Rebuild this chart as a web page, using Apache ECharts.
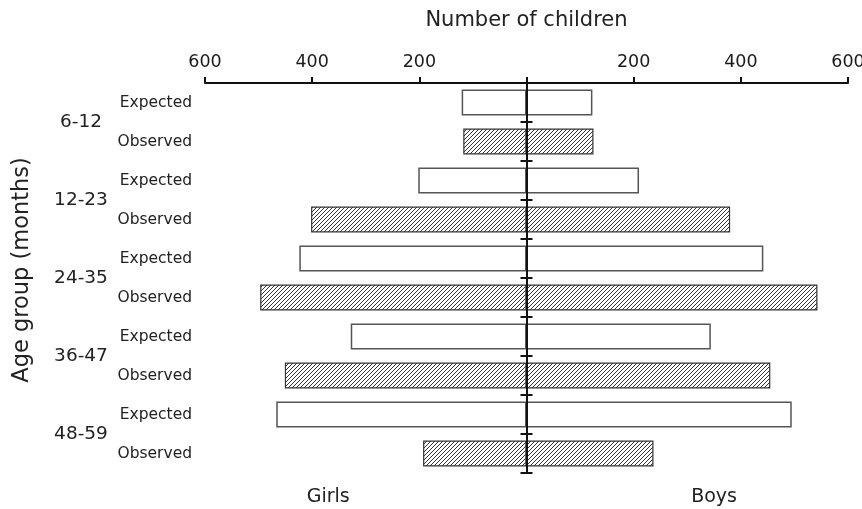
<!DOCTYPE html>
<html>
<head>
<meta charset="utf-8">
<script src="https://cdn.jsdelivr.net/npm/echarts@6/dist/echarts.min.js"></script>
<style>
html,body{margin:0;padding:0;background:#fff;}
#chart{width:862px;height:509px;}
</style>
</head>
<body>
<div id="chart"></div>
<script>
// ---- data ----
const groups = ['6-12', '12-23', '24-35', '36-47', '48-59'];
const rowTypes = ['Expected', 'Observed'];
const girlsExpected = [121, 202, 424, 328, 467];
const girlsObserved = [118, 402, 497, 451, 193];
const boysExpected  = [123, 210, 442, 344, 495];
const boysObserved  = [125, 380, 543, 455, 237];
const xTicks = [-600, -400, -200, 0, 200, 400, 600];
const sideLabels = ['Girls', 'Boys'];
const sideLabelValues = [-370, 350];

// ---- hatch pattern ----
function makeHatch() {
  const p = 4;
  const c = document.createElement('canvas');
  c.width = p; c.height = p;
  const ctx = c.getContext('2d');
  ctx.fillStyle = '#fff';
  ctx.fillRect(0, 0, p, p);
  ctx.strokeStyle = '#333';
  ctx.lineWidth = 1;
  ctx.beginPath();
  ctx.moveTo(-1, p + 1); ctx.lineTo(p + 1, -1);
  ctx.moveTo(-1, 1); ctx.lineTo(1, -1);
  ctx.moveTo(p - 1, p + 1); ctx.lineTo(p + 1, p - 1);
  ctx.stroke();
  return c;
}
const hatch = { image: makeHatch(), repeat: 'repeat' };

const styleExpected = { color: '#fff', borderColor: '#555', borderWidth: 1.5 };
const styleObserved = { color: hatch, borderColor: '#333', borderWidth: 1.2 };

const cats = [];
const girlsData = [];
const boysData = [];
groups.forEach((g, i) => {
  cats.push(g + '|' + rowTypes[0]);
  girlsData.push({ value: -girlsExpected[i], itemStyle: styleExpected });
  boysData.push({ value: boysExpected[i], itemStyle: styleExpected });
  cats.push(g + '|' + rowTypes[1]);
  girlsData.push({ value: -girlsObserved[i], itemStyle: styleObserved });
  boysData.push({ value: boysObserved[i], itemStyle: styleObserved });
});

const FONT = 'DejaVu Sans';
const chart = echarts.init(document.getElementById('chart'), null, { renderer: 'canvas' });

const centerAxis = (pos) => ({
  type: 'category', data: cats, inverse: true, position: pos, z: 10,
  axisLine: { show: true, onZero: true, onZeroAxisIndex: 0, lineStyle: { color: '#111', width: 2 } },
  axisTick: { show: true, length: 6, lineStyle: { color: '#111', width: 2 } },
  axisLabel: { show: false }, splitLine: { show: false }
});

chart.setOption({
  animation: false,
  textStyle: { fontFamily: FONT },
  grid: { left: 205, right: 14, top: 83, bottom: 36, containLabel: false, outerBoundsMode: 'none' },
  xAxis: {
    type: 'value', position: 'top', min: xTicks[0], max: xTicks[xTicks.length - 1], interval: 200,
    name: 'Number of children', nameLocation: 'middle', nameGap: 52,
    nameTextStyle: { fontFamily: FONT, fontSize: 21, color: '#222' },
    axisLine: { show: true, onZero: false, lineStyle: { color: '#111', width: 2 } },
    axisTick: { show: true, length: 6, lineStyle: { color: '#111', width: 2 } },
    axisLabel: { fontFamily: FONT, fontSize: 17.5, color: '#1a1a1a', margin: 12, hideOverlap: false,
      formatter: v => v === 0 ? '' : String(Math.abs(v)) },
    splitLine: { show: false }
  },
  yAxis: [
    centerAxis('left'),
    centerAxis('right'),
    {
      type: 'category', data: cats, inverse: true, position: 'left',
      axisLine: { show: false, onZero: false }, axisTick: { show: false },
      axisLabel: { fontFamily: FONT, fontSize: 15.5, color: '#222', margin: 13,
        formatter: v => v.split('|')[1] },
      splitLine: { show: false }
    },
    {
      type: 'category', data: groups, inverse: true, position: 'left',
      axisLine: { show: false, onZero: false }, axisTick: { show: false },
      axisLabel: { fontFamily: FONT, fontSize: 18.5, color: '#222', margin: 124, align: 'center' },
      splitLine: { show: false }
    }
  ],
  series: [
    { name: 'Girls', type: 'bar', yAxisIndex: 0, data: girlsData, barWidth: 26, barGap: '-100%', z: 2 },
    { name: 'Boys', type: 'bar', yAxisIndex: 0, data: boysData, barWidth: 26, barGap: '-100%', z: 2 }
  ]
});

// side labels positioned through the value axis scale
const gSide = sideLabels.map((t, i) => {
  const px = chart.convertToPixel({ xAxisIndex: 0 }, sideLabelValues[i]);
  return { type: 'text', x: px, y: 497,
    style: { text: t, font: '19px "DejaVu Sans"', fill: '#222', align: 'center', verticalAlign: 'middle' } };
});
chart.setOption({ graphic: [
  { type: 'text', x: 22, y: 270, rotation: Math.PI / 2,
    style: { text: 'Age group (months)', font: '22.5px "DejaVu Sans"', fill: '#222', align: 'center', verticalAlign: 'middle' } }
].concat(gSide) });
</script>
</body>
</html>
